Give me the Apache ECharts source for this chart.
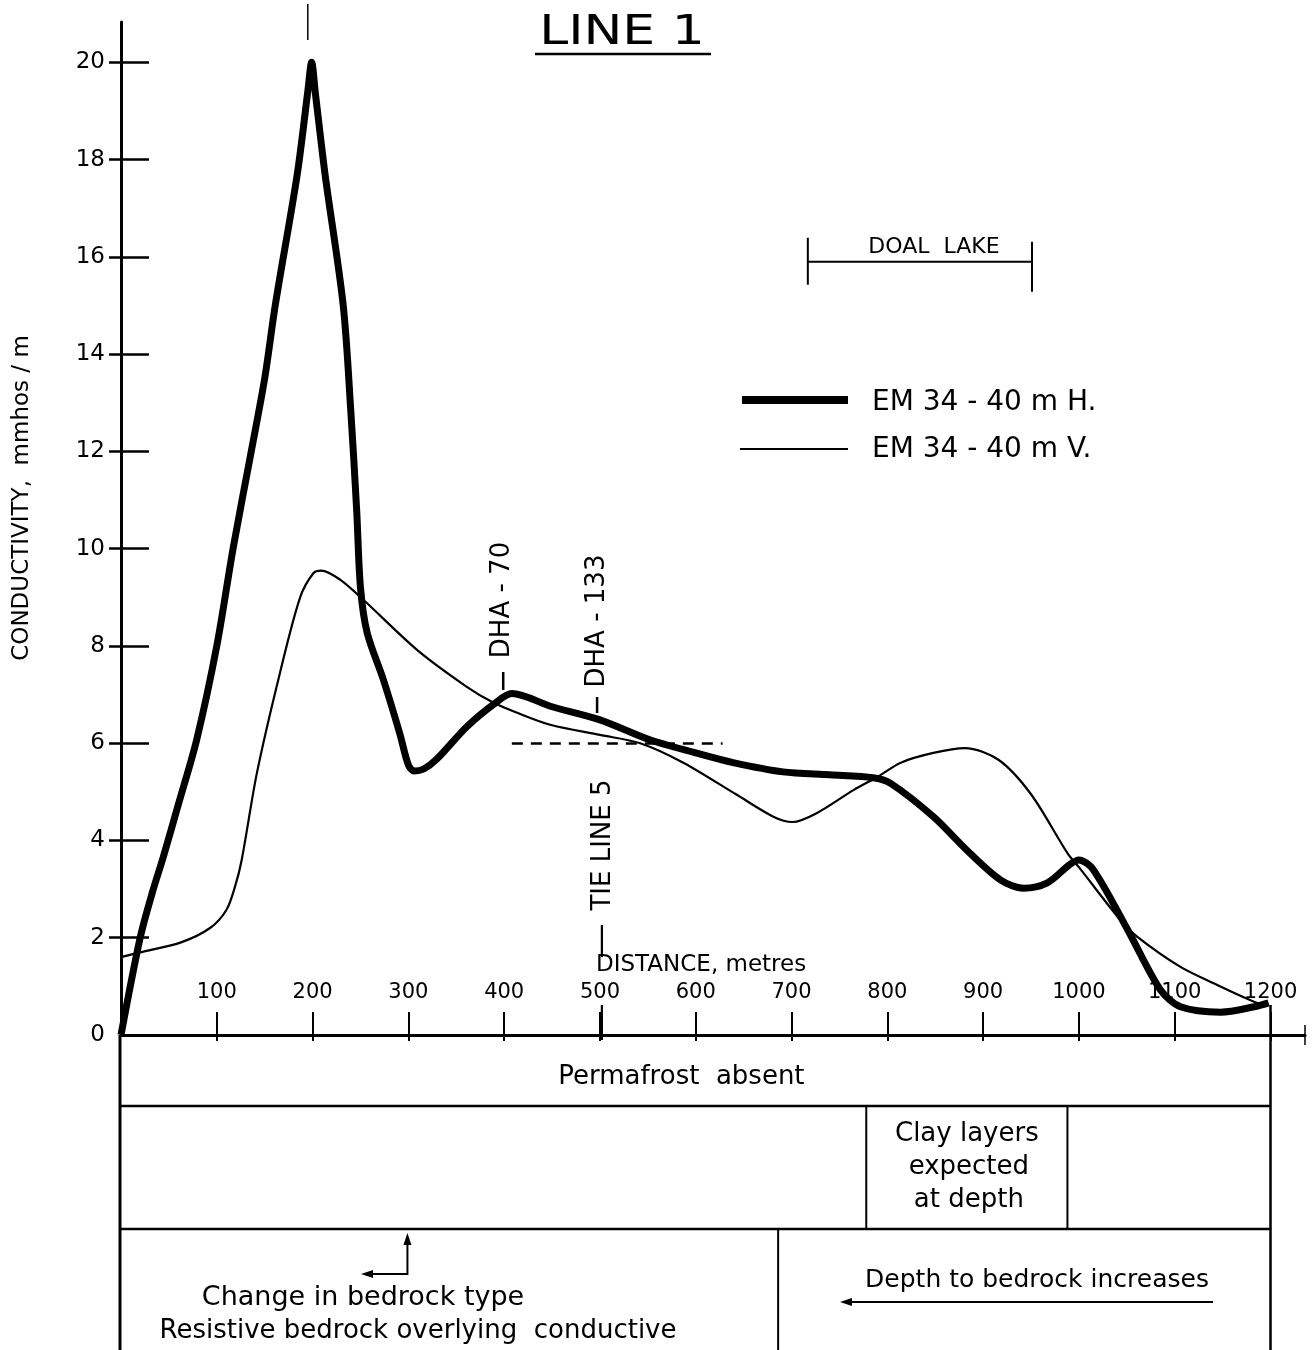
<!DOCTYPE html>
<html><head><meta charset="utf-8">
<script src="https://cdn.jsdelivr.net/npm/echarts@6/dist/echarts.min.js"></script>
<style>html,body{margin:0;padding:0;background:#fff}#c{width:1314px;height:1350px}</style>
</head><body><div id="c"></div>
<script>
// ---------- data ----------
const seriesNames = ['EM 34 - 40 m H.', 'EM 34 - 40 m V.'];
const xTicks = [100, 200, 300, 400, 500, 600, 700, 800, 900, 1000, 1100, 1200];
const yTicks = [0, 2, 4, 6, 8, 10, 12, 14, 16, 18, 20];

const hDist = [0, 20, 33, 44, 60, 79, 100, 117, 135, 150, 161, 184, 195, 199, 203, 213, 232, 240, 246, 250, 257, 274, 291, 300, 306, 316, 330, 361, 391, 408, 450, 500, 552, 600, 639, 691, 740, 785, 803, 848, 883, 918, 942, 967, 990, 1000, 1015, 1051, 1085, 1106, 1148, 1183, 1198];
const hVal  = [0.0, 2.0, 2.95, 3.65, 4.75, 6.07, 8.0, 10.0, 11.9, 13.5, 15.0, 17.7, 19.4, 20.0, 19.35, 17.7, 15.0, 12.8, 10.8, 9.2, 8.27, 7.3, 6.2, 5.55, 5.43, 5.47, 5.68, 6.34, 6.83, 7.02, 6.75, 6.48, 6.07, 5.8, 5.6, 5.41, 5.35, 5.29, 5.18, 4.49, 3.8, 3.19, 3.02, 3.13, 3.5, 3.6, 3.4, 2.16, 0.93, 0.58, 0.47, 0.58, 0.66];

const vDist = [0, 20, 62, 93, 110, 119, 126, 142, 166, 187, 201, 209, 229, 253, 309, 361, 389, 413, 448, 500, 542, 587, 642, 681, 701, 727, 765, 790, 814, 848, 881, 916, 950, 988, 1002, 1043, 1061, 1106, 1140, 1186, 1198];
const vVal  = [1.6, 1.7, 1.9, 2.2, 2.57, 3.05, 3.6, 5.4, 7.45, 9.0, 9.5, 9.55, 9.36, 8.95, 7.92, 7.16, 6.83, 6.63, 6.38, 6.17, 6.0, 5.6, 4.95, 4.49, 4.38, 4.57, 5.04, 5.31, 5.6, 5.8, 5.9, 5.66, 4.95, 3.74, 3.4, 2.37, 2.02, 1.4, 1.07, 0.66, 0.62];

// annotations (distance in metres / conductivity)
const doalLake = [717, 951];
const doalLevel = 15.9;
const dha70At = 399;
const dha133At = 497;
const tieLineAt = 502;
const dashedLevel = 6.0;
const dashedSpan = [408, 628];

// ---------- chart ----------
const FONT = 'DejaVu Sans';
const chart = echarts.init(document.getElementById('c'));
const black = '#000';

const option = {
  animation: false,
  backgroundColor: '#fff',
  grid: { left: 121, right: 9, top: 22, bottom: 315, containLabel: false },
  xAxis: [
    { type: 'value', min: 0, max: 1236, position: 'bottom',
      axisLine: { show: true, lineStyle: { color: black, width: 3 } },
      axisTick: { show: true, inside: true, length: 23, customValues: xTicks, lineStyle: { color: black, width: 2 } },
      axisLabel: { show: true, inside: true, margin: 32, customValues: xTicks, color: black, fontSize: 21, fontFamily: FONT,
        formatter: v => String(v) },
      splitLine: { show: false } },
    { type: 'value', min: 0, max: 1236, position: 'bottom',
      axisLine: { show: false },
      axisTick: { show: true, inside: false, length: 6, customValues: xTicks, lineStyle: { color: black, width: 2 } },
      axisLabel: { show: false }, splitLine: { show: false } }
  ],
  yAxis: [
    { type: 'value', min: 0, max: 20.83, position: 'left',
      axisLine: { show: true, lineStyle: { color: black, width: 3 } },
      axisTick: { show: true, inside: false, length: 12, customValues: yTicks.filter(v => v > 0), lineStyle: { color: black, width: 2.5 } },
      axisLabel: { show: true, margin: 16, customValues: yTicks, color: black, fontSize: 23, fontFamily: FONT,
        formatter: v => String(v) },
      splitLine: { show: false } },
    { type: 'value', min: 0, max: 20.83, position: 'left',
      axisLine: { show: false },
      axisTick: { show: true, inside: true, length: 28, customValues: yTicks.filter(v => v > 0), lineStyle: { color: black, width: 2.5 } },
      axisLabel: { show: false }, splitLine: { show: false } }
  ],
  series: [
    { name: seriesNames[0], type: 'line', xAxisIndex: 0, yAxisIndex: 0,
      data: hDist.map((d, i) => [d, hVal[i]]),
      smooth: 0.3, symbol: 'none', z: 5,
      lineStyle: { color: black, width: 7 }, itemStyle: { color: black } },
    { name: seriesNames[1], type: 'line', xAxisIndex: 0, yAxisIndex: 0,
      data: vDist.map((d, i) => [d, vVal[i]]),
      smooth: 0.3, symbol: 'none', z: 4,
      lineStyle: { color: black, width: 2.2 }, itemStyle: { color: black },
      markLine: { silent: true, symbol: ['none', 'none'], label: { show: false },
        lineStyle: { color: black, width: 2.5, type: [11, 8] },
        data: [[{ coord: [dashedSpan[0], dashedLevel] }, { coord: [dashedSpan[1], dashedLevel] }]] } }
  ]
};
chart.setOption(option);

const px = v => chart.convertToPixel({ xAxisIndex: 0 }, v);
const py = v => chart.convertToPixel({ yAxisIndex: 0 }, v);
const g = [];
function L(x1, y1, x2, y2, w, dash) {
  g.push({ type: 'line', silent: true, z: 20, shape: { x1, y1, x2, y2 },
    style: { stroke: black, lineWidth: w || 2.2, lineDash: dash || null } });
}
function T(text, x, y, size, rot, align, sx) {
  g.push({ type: 'text', silent: true, z: 20, x, y, rotation: rot || 0, scaleX: sx || 1,
    style: { text, fill: black, font: size + 'px "' + FONT + '"',
      textAlign: align || 'center', textVerticalAlign: 'middle', align: align || 'center', verticalAlign: 'middle' } });
}
function arrowHead(x, y, dir) {
  let pts;
  if (dir === 'left') pts = [[x, y], [x + 12, y - 4], [x + 12, y + 4]];
  else pts = [[x, y], [x - 4, y + 12], [x + 4, y + 12]];
  g.push({ type: 'polygon', silent: true, z: 20, shape: { points: pts }, style: { fill: black } });
}

// title
T('LINE 1', 622, 34, 40, 0, 'center', 1.3);
L(535, 54, 711, 54, 2.5);
// small mark above peak
L(px(195), 4, px(195), 40, 1.5);
// end tick of distance axis
L(1305, 1025, 1305, 1045, 1.5);
// y axis name
T('CONDUCTIVITY,  mmhos / m', 22, 498, 23, Math.PI / 2);

// legend (drawn)
L(742, 400, 848, 400, 8);
T(seriesNames[0], 872, 403, 28, 0, 'left');
L(740, 449, 848, 449, 2.2);
T(seriesNames[1], 872, 450, 28, 0, 'left');

// Doal lake bracket
const d1 = px(doalLake[0]), d2 = px(doalLake[1]), dy = py(doalLevel);
L(d1, dy, d2, dy, 2);
L(d1, dy - 24, d1, dy + 23, 2);
L(d2, dy - 20, d2, dy + 30, 2);
T('DOAL  LAKE', (d1 + d2) / 2 + 14, dy - 14, 22);

// DHA markers
const a70 = px(dha70At), a133 = px(dha133At);
L(a70, 672, a70, 690, 2.5);
T('DHA - 70', a70 - 1, 600, 26, Math.PI / 2);
L(a133, 697, a133, 713, 2.5);
T('DHA - 133', a133, 621, 26, Math.PI / 2);

// Tie line 5
const tl = px(tieLineAt);
T('TIE LINE 5', tl + 1, 845, 26, Math.PI / 2);
L(tl, 925, tl, 957, 2.2);
L(tl, 1005, tl, 1040, 2.2);
T('DISTANCE, metres', 596, 965, 23, 0, 'left');

// lower boxes
const bx0 = px(0), bx1 = px(1200);
const yTop = py(0), yR1 = 1106, yR2 = 1229, yBot = 1350;
L(bx0 - 1, yTop, bx0 - 1, yBot, 3);
L(bx1, 1005, bx1, yBot, 2.5);
L(bx0, yR1, bx1, yR1, 2.5);
L(bx0, yR2, bx1, yR2, 2.5);
const c1 = px(778), c2 = px(988), c3 = px(686);
L(c1, yR1, c1, yR2, 2);
L(c2, yR1, c2, yR2, 2);
L(c3, yR2, c3, yBot, 2);
T('Permafrost  absent', px(585), 1077, 26);
T('Clay layers', (c1 + c2) / 2, 1134, 26);
T('expected', (c1 + c2) / 2 + 2, 1167, 26);
T('at depth', (c1 + c2) / 2 + 2, 1200, 26);
const ax = px(299);
L(ax, 1275, ax, 1244, 2);
arrowHead(ax, 1233, 'up');
L(ax, 1274, 372, 1274, 2);
arrowHead(361, 1274, 'left');
T('Change in bedrock type', 363, 1298, 27);
T('Resistive bedrock overlying  conductive', 418, 1331, 26);
T('Depth to bedrock increases', 1037, 1280, 25);
L(1213, 1302, 852, 1302, 2);
arrowHead(840, 1302, 'left');

chart.setOption({ graphic: { elements: g } });
</script>
</body></html>
